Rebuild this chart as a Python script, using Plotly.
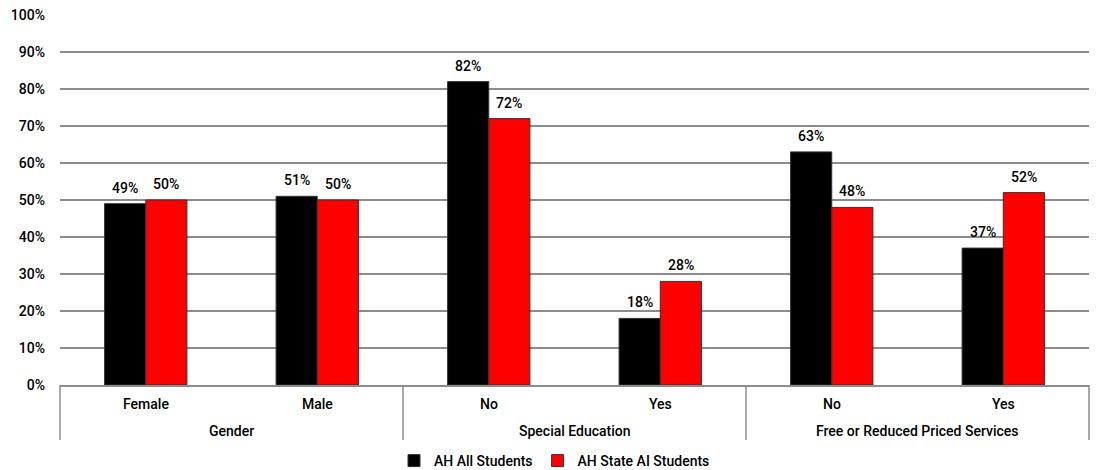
import plotly.graph_objects as go

groups = ["Gender", "Gender", "Special Education", "Special Education",
          "Free or Reduced Priced Services", "Free or Reduced Priced Services"]
categories = ["Female", "Male", "No", "Yes", "No", "Yes"]
group_names = ["Gender", "Special Education", "Free or Reduced Priced Services"]
all_students = [49, 51, 82, 18, 63, 37]
state_ai_students = [50, 50, 72, 28, 48, 52]
y_ticks = [0, 10, 20, 30, 40, 50, 60, 70, 80, 90, 100]

FONT = "Roboto"
GRID = "#8c8c8c"
W, H = 1098, 470
M_L, M_R, M_T, M_B = 60, 9, 15, 85
plot_h = H - M_T - M_B
plot_w = W - M_L - M_R
BARGAP = 0.52
bar_w = (1 - BARGAP) / 2  # width of one bar in category units

series = [("AH All Students", all_students, "#000000"),
          ("AH State AI Students", state_ai_students, "#ff0000")]

fig = go.Figure()
for name, vals, color in series:
    fig.add_trace(go.Bar(
        name=name,
        x=[groups, categories],
        y=vals,
        marker=dict(color=color, line=dict(color="#333333", width=1)),
        cliponaxis=False,
    ))


def px_below(p):
    """Paper y coordinate for a point p pixels below the plot bottom."""
    return -p / plot_h


label_font = dict(family=FONT, size=14, color="#000000", weight=500)
n = len(categories)
annotations = []

# value labels above each bar
for s, (_, vals, _) in enumerate(series):
    offset = (s - 0.5) * bar_w
    for i, v in enumerate(vals):
        annotations.append(dict(
            x=(i + 0.5 + offset) / n, y=v, xref="paper", yref="y",
            text=f"{v}%", showarrow=False, xanchor="center", yanchor="bottom",
            yshift=6, font=label_font))

# two-level category axis labels
for i, cat in enumerate(categories):
    annotations.append(dict(
        x=(i + 0.5) / n, y=px_below(19), xref="paper", yref="paper",
        text=cat, showarrow=False, xanchor="center", yanchor="middle",
        font=label_font))
for g, name in enumerate(group_names):
    annotations.append(dict(
        x=(g + 0.5) / len(group_names), y=px_below(46), xref="paper", yref="paper",
        text=name, showarrow=False, xanchor="center", yanchor="middle",
        font=label_font))

shapes = []
for k in range(len(group_names) + 1):
    xk = k / len(group_names)
    shapes.append(dict(type="line", xref="paper", yref="paper",
                       x0=xk, x1=xk, y0=0, y1=px_below(55),
                       line=dict(color=GRID, width=1.5)))

fig.update_layout(
    width=W, height=H,
    margin=dict(l=M_L, r=M_R, t=M_T, b=M_B, autoexpand=False),
    barmode="group",
    bargap=BARGAP,
    bargroupgap=0,
    plot_bgcolor="white",
    paper_bgcolor="white",
    font=dict(family=FONT, size=14, color="#000000"),
    legend=dict(orientation="h", x=0.5 - 20 / plot_w, xanchor="center",
                y=1 - 461 / H, yanchor="middle", yref="container",
                font=dict(family=FONT, size=14, weight=500), itemwidth=30,
                traceorder="normal"),
    annotations=annotations,
    shapes=shapes,
)
fig.update_yaxes(
    range=[0, 100], tickvals=y_ticks, ticktext=[f"{t}%" for t in y_ticks],
    showgrid=True, gridcolor=GRID, gridwidth=1.5,
    zeroline=False, showline=False, ticks="", ticklabelstandoff=14,
    tickfont=dict(family=FONT, size=14, weight=500),
)
fig.update_xaxes(
    showline=True, linecolor=GRID, linewidth=1.5,
    showticklabels=False, showdividers=False, ticks="",
)

fig.write_html("out.html")
